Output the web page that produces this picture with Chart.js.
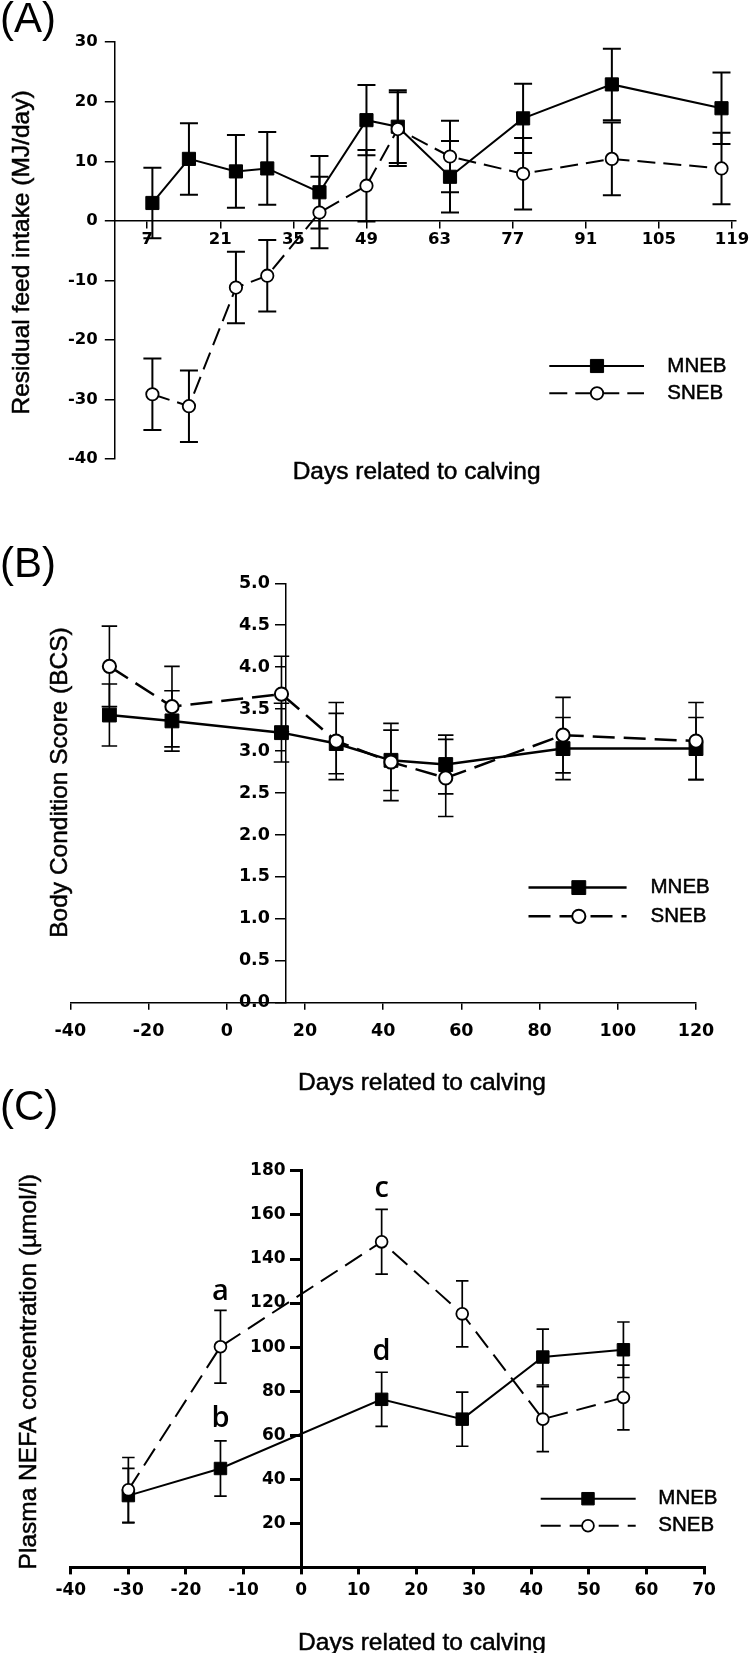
<!DOCTYPE html>
<html>
<head>
<meta charset="utf-8">
<script src="https://cdn.jsdelivr.net/npm/chart.js@4.4.0/dist/chart.umd.min.js"></script>
<style>
  body { margin: 0; background: #fff; width: 750px; height: 1653px; position: relative; overflow: hidden; }
  canvas { position: absolute; left: 0; }
</style>
</head>
<body>
<canvas id="rfiChart" width="750" height="500" style="top:0px"></canvas>
<canvas id="bcsChart" width="750" height="600" style="top:500px"></canvas>
<canvas id="nefaChart" width="750" height="568" style="top:1085px"></canvas>
<script>
// (A) residual feed intake
const rfiDays = [8, 15, 24, 30, 40, 49, 55, 65, 79, 96, 117];
const rfiMneb = [3.0, 10.4, 8.3, 8.8, 4.8, 16.9, 15.8, 7.4, 17.2, 22.9, 18.9];
const rfiMnebSe = [5.9, 6.0, 6.1, 6.1, 6.1, 5.9, 6.1, 6.0, 5.8, 6.0, 6.0];
const rfiSneb = [-29.1, -31.1, -11.2, -9.2, 1.4, 5.9, 15.4, 10.8, 7.9, 10.4, 8.8];
const rfiSnebSe = [6.0, 6.0, 6.0, 6.0, 6.0, 6.0, 6.2, 6.0, 6.0, 6.1, 6.0];
const rfiXTicks = [7, 21, 35, 49, 63, 77, 91, 105, 119];
const rfiYTicks = [-40, -30, -20, -10, 0, 10, 20, 30];

// (B) body condition score
const bcsDays = [-30, -14, 14, 28, 42, 56, 86, 120];
const bcsMneb = [3.43, 3.36, 3.22, 3.09, 2.89, 2.84, 3.03, 3.03];
const bcsMnebSe = [0.37, 0.36, 0.35, 0.36, 0.36, 0.35, 0.37, 0.37];
const bcsSneb = [4.01, 3.53, 3.68, 3.12, 2.87, 2.68, 3.19, 3.12];
const bcsSnebSe = [0.48, 0.48, 0.45, 0.46, 0.46, 0.46, 0.45, 0.46];
const bcsXTicks = [-40, -20, 0, 20, 40, 60, 80, 100, 120];
const bcsYTicks = [0, 0.5, 1, 1.5, 2, 2.5, 3, 3.5, 4, 4.5, 5];

// (C) plasma NEFA
const nefaDays = [-30, -14, 14, 28, 42, 56];
const nefaMneb = [32.6, 44.9, 76.3, 67.3, 95.5, 98.8];
const nefaMnebSe = [12.4, 12.5, 12.3, 12.3, 12.7, 12.6];
const nefaSneb = [35.2, 100.2, 147.8, 115.1, 67.3, 77.1];
const nefaSnebSe = [14.7, 16.5, 14.7, 15.0, 14.7, 14.7];
const nefaXTicks = [-40, -30, -20, -10, 0, 10, 20, 30, 40, 50, 60, 70];
const nefaYTicks = [20, 40, 60, 80, 100, 120, 140, 160, 180];
const nefaLetters = ['a', 'b', 'c', 'd'];
const nefaLetterDays = [-14, -14, 14, 14];
const nefaLetterLevels = [121.4, 63.8, 168.2, 94.3];

const seriesNames = ['MNEB', 'SNEB'];

const TICK_FONT = '"DejaVu Sans", sans-serif';
const TEXT_FONT = '"Liberation Sans", Arial, sans-serif';

function points(days, vals) {
  return days.map((d, i) => ({ x: d, y: vals[i] }));
}

function axisStyle(width, tickLen) {
  return {
    grid: { display: true, drawOnChartArea: false, drawTicks: true, tickLength: tickLen, color: '#000', lineWidth: width },
    border: { display: true, color: '#000', width: width },
    ticks: { display: false }
  };
}

function noPad(s) {
  s.paddingLeft = 0; s.paddingRight = 0; s.paddingTop = 0; s.paddingBottom = 0;
}

function fixedTicks(list) {
  return (s) => { s.ticks = list.map(v => ({ value: v })); };
}

// text with a thin outline so it reads as heavy as the scanned figure
function heavyText(ctx, txt, x, y, w) {
  ctx.fillText(txt, x, y);
  ctx.lineWidth = w;
  ctx.strokeStyle = '#000';
  ctx.strokeText(txt, x, y);
}

// error bars drawn under the lines and markers
function errorBarPlugin(capWidth, lineWidth) {
  return {
    id: 'errorBars',
    beforeDatasetsDraw(chart) {
      const ctx = chart.ctx, xs = chart.scales.x, ys = chart.scales.y;
      ctx.save();
      ctx.strokeStyle = '#000';
      ctx.lineWidth = lineWidth;
      chart.data.datasets.forEach(ds => {
        ds.data.forEach((pt, i) => {
          const err = ds.errorBars[i];
          const x = xs.getPixelForValue(pt.x);
          const hi = ys.getPixelForValue(pt.y + err);
          const lo = ys.getPixelForValue(pt.y - err);
          ctx.beginPath();
          ctx.moveTo(x, hi); ctx.lineTo(x, lo);
          ctx.moveTo(x - capWidth / 2, hi); ctx.lineTo(x + capWidth / 2, hi);
          ctx.moveTo(x - capWidth / 2, lo); ctx.lineTo(x + capWidth / 2, lo);
          ctx.stroke();
        });
      });
      ctx.restore();
    }
  };
}

// tick labels, titles, panel letter, legend, annotations
function decorPlugin(cfg) {
  return {
    id: 'decor',
    afterDraw(chart) {
      const ctx = chart.ctx, xs = chart.scales.x, ys = chart.scales.y, area = chart.chartArea;
      ctx.save();
      ctx.fillStyle = '#000';

      // tick labels
      const yAxisX = typeof ys.options.position === 'object' ? xs.getPixelForValue(ys.options.position.x) : area.left;
      const xAxisY = typeof xs.options.position === 'object' ? ys.getPixelForValue(xs.options.position.y) : area.bottom;
      ctx.font = cfg.tickFont;
      ctx.textBaseline = 'middle';
      ctx.textAlign = 'right';
      ys.ticks.forEach(t => {
        ctx.fillText(t.value.toFixed(cfg.yDecimals), yAxisX - cfg.yGap, ys.getPixelForValue(t.value));
      });
      ctx.textAlign = 'center';
      xs.ticks.forEach(t => {
        ctx.fillText(String(t.value), xs.getPixelForValue(t.value), xAxisY + cfg.xGap);
      });

      // panel letter
      ctx.textBaseline = 'alphabetic';
      ctx.textAlign = 'left';
      ctx.font = '42px ' + TEXT_FONT;
      ctx.fillText(cfg.panel, 0, cfg.panelY);

      // axis titles
      ctx.font = '24.5px ' + TEXT_FONT;
      ctx.textAlign = 'center';
      heavyText(ctx, 'Days related to calving', cfg.xTitle[0], cfg.xTitle[1], 0.5);
      ctx.save();
      ctx.translate(cfg.yTitle[0], cfg.yTitle[1]);
      ctx.rotate(-Math.PI / 2);
      heavyText(ctx, cfg.yTitleText, 0, 0, 0.5);
      ctx.restore();

      // legend
      const lg = cfg.legend;
      chart.data.datasets.forEach((ds, i) => {
        const y = lg.rows[i];
        ctx.strokeStyle = '#000';
        ctx.lineWidth = ds.borderWidth;
        ctx.setLineDash(ds.borderDash || []);
        ctx.beginPath();
        ctx.moveTo(lg.x0, y); ctx.lineTo(lg.x1, y);
        ctx.stroke();
        ctx.setLineDash([]);
        ctx.fillStyle = ds.pointBackgroundColor;
        ctx.lineWidth = ds.pointBorderWidth;
        Chart.helpers.drawPoint(ctx, { pointStyle: ds.pointStyle, radius: ds.pointRadius, borderWidth: ds.pointBorderWidth, rotation: 0 }, lg.marker, y);
        ctx.fillStyle = '#000';
        ctx.font = '20.5px ' + TEXT_FONT;
        ctx.textAlign = 'left';
        ctx.textBaseline = 'middle';
        heavyText(ctx, ds.label, lg.textX, y, 0.5);
      });

      // significance letters
      if (cfg.letters) {
        ctx.font = '600 29px "Open Sans", sans-serif';
        ctx.textAlign = 'center';
        ctx.textBaseline = 'alphabetic';
        cfg.letters.forEach((l, i) => {
          ctx.fillText(l, xs.getPixelForValue(cfg.letterDays[i]), ys.getPixelForValue(cfg.letterLevels[i]));
        });
      }
      ctx.restore();
    }
  };
}

function makeDatasets(days, mneb, mnebSe, sneb, snebSe, st) {
  return [{
    label: seriesNames[0],
    data: points(days, mneb),
    errorBars: mnebSe,
    borderColor: '#000',
    borderWidth: st.line,
    pointStyle: 'rect',
    pointRadius: st.square,
    pointBackgroundColor: '#000',
    pointBorderColor: '#000',
    pointBorderWidth: 1,
    tension: 0,
    clip: false,
    order: 1
  }, {
    label: seriesNames[1],
    data: points(days, sneb),
    errorBars: snebSe,
    borderColor: '#000',
    borderWidth: st.line,
    borderDash: st.dash,
    pointStyle: 'circle',
    pointRadius: st.circle,
    pointBackgroundColor: '#fff',
    pointBorderColor: '#000',
    pointBorderWidth: st.circleBorder,
    tension: 0,
    clip: false,
    order: 0
  }];
}

const baseOptions = {
  responsive: false,
  animation: false,
  events: [],
  plugins: { legend: { display: false }, tooltip: { enabled: false } }
};

// (A)
new Chart(document.getElementById('rfiChart'), {
  type: 'line',
  data: { datasets: makeDatasets(rfiDays, rfiMneb, rfiMnebSe, rfiSneb, rfiSnebSe, { line: 2, square: 9.3, circle: 6.2, circleBorder: 1.8, dash: [18, 8] }) },
  options: {
    ...baseOptions,
    layout: { padding: { left: 0, top: 42.1, right: 14.4, bottom: 40.8 } },
    scales: {
      x: {
        type: 'linear', min: 0.8, max: 119.7, position: { y: 0 },
        ...axisStyle(1.5, 7),
        afterBuildTicks: fixedTicks(rfiXTicks),
        afterFit: noPad
      },
      y: {
        type: 'linear', min: -40, max: 30, position: 'left',
        ...axisStyle(1.5, 10),
        afterBuildTicks: fixedTicks(rfiYTicks),
        afterFit: (s) => { noPad(s); s.width = 114.8; }
      }
    }
  },
  plugins: [errorBarPlugin(18, 2), decorPlugin({
    tickFont: 'bold 16.5px ' + TICK_FONT, yDecimals: 0, yGap: 17, xGap: 19,
    panel: '(A)', panelY: 32,
    xTitle: [416.6, 478.5], yTitle: [29, 252.5], yTitleText: 'Residual feed intake (MJ/day)',
    legend: { x0: 549.3, x1: 644, marker: 597, textX: 667.3, rows: [366, 393.3] }
  })]
});

// (B)
new Chart(document.getElementById('bcsChart'), {
  type: 'line',
  data: { datasets: makeDatasets(bcsDays, bcsMneb, bcsMnebSe, bcsSneb, bcsSnebSe, { line: 2.5, square: 9.8, circle: 6.6, circleBorder: 2, dash: [22, 9] }) },
  options: {
    ...baseOptions,
    layout: { padding: { left: 70.3, top: 83.3, right: 54, bottom: 0 } },
    scales: {
      x: {
        type: 'linear', min: -40, max: 120, position: 'bottom',
        ...axisStyle(1.5, 7),
        afterBuildTicks: fixedTicks(bcsXTicks),
        afterFit: (s) => { noPad(s); s.height = 97.2; }
      },
      y: {
        type: 'linear', min: 0, max: 5, position: { x: 15 },
        ...axisStyle(1.5, 10),
        afterBuildTicks: fixedTicks(bcsYTicks),
        afterFit: noPad
      }
    }
  },
  plugins: [errorBarPlugin(15.5, 1.6), decorPlugin({
    tickFont: 'bold 17.5px ' + TICK_FONT, yDecimals: 1, yGap: 15.5, xGap: 28.5,
    panel: '(B)', panelY: 77,
    xTitle: [422, 590], yTitle: [67, 282.5], yTitleText: 'Body Condition Score (BCS)',
    legend: { x0: 528.5, x1: 626.6, marker: 578.8, textX: 650.5, rows: [387.6, 416.3] }
  })]
});

// (C)
new Chart(document.getElementById('nefaChart'), {
  type: 'line',
  data: { datasets: makeDatasets(nefaDays, nefaMneb, nefaMnebSe, nefaSneb, nefaSnebSe, { line: 2, square: 8.8, circle: 5.9, circleBorder: 1.8, dash: [20, 9] }) },
  options: {
    ...baseOptions,
    layout: { padding: { left: 70.8, top: 85.9, right: 46, bottom: 0 } },
    scales: {
      x: {
        type: 'linear', min: -40, max: 70, position: 'bottom',
        ...axisStyle(3, 7),
        afterBuildTicks: fixedTicks(nefaXTicks),
        afterFit: (s) => { noPad(s); s.height = 85.6; }
      },
      y: {
        type: 'linear', min: 0, max: 180, position: { x: 0 },
        ...axisStyle(3, 10),
        afterBuildTicks: fixedTicks(nefaYTicks),
        afterFit: noPad
      }
    }
  },
  plugins: [errorBarPlugin(12.5, 1.7), decorPlugin({
    tickFont: 'bold 17px ' + TICK_FONT, yDecimals: 0, yGap: 15.5, xGap: 23,
    panel: '(C)', panelY: 35,
    xTitle: [422, 565], yTitle: [36, 286.7], yTitleText: 'Plasma NEFA concentration (µmol/l)',
    legend: { x0: 540.7, x1: 635.7, marker: 588, textX: 658.3, rows: [413.7, 440.7] },
    letters: nefaLetters, letterDays: nefaLetterDays, letterLevels: nefaLetterLevels
  })]
});
</script>
</body>
</html>
